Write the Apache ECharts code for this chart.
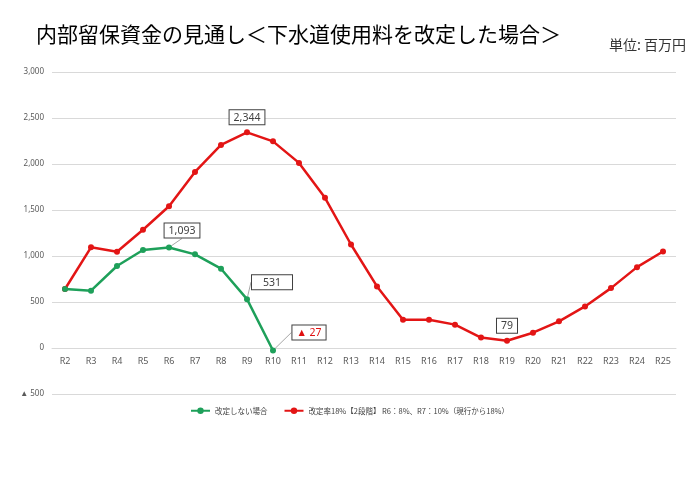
<!DOCTYPE html>
<html><head><meta charset="utf-8">
<script src="https://cdn.jsdelivr.net/npm/echarts@6/dist/echarts.min.js"></script>
<style>html,body{margin:0;padding:0;background:#fff}#c{width:699px;height:484px}</style>
</head><body><div id="c"></div>
<script>
var categories = ['R2','R3','R4','R5','R6','R7','R8','R9','R10','R11','R12','R13','R14','R15','R16','R17','R18','R19','R20','R21','R22','R23','R24','R25'];
var noChange = [641, 623, 891, 1065, 1093, 1018, 862, 531, -27, null, null, null, null, null, null, null, null, null, null, null, null, null, null, null];
var revised = [641, 1094, 1047, 1285, 1541, 1914, 2207, 2344, 2246, 2012, 1632, 1125, 669, 308, 308, 254, 113, 79, 166, 290, 452, 651, 879, 1049];
var seriesNames = ['改定しない場合', '改定率18%【2段階】 R6：8%、R7：10%（現行から18%）'];
var yTicks = [-500, 0, 500, 1000, 1500, 2000, 2500, 3000];
var greenLabelIdx = [4, 7, 8];
var redLabelIdx = [7, 17];

function fmt(v){
  var a = Math.abs(v).toString().replace(/\B(?=(\d{3})+(?!\d))/g, ',');
  return v < 0 ? '▲ ' + a : a;
}
var boxLabel = {
  show: true, position: 'top', backgroundColor: '#fff', borderColor: '#404040', borderWidth: 1,
  padding: [2, 4, 1, 4], fontSize: 10.5, color: '#404040', fontFamily: 'Noto Sans',
  formatter: function(p){ return fmt(p.value); }
};
var labelPads = {7: [2, 11, 1, 11]};
function mkData(arr, idxs, pads){
  return arr.map(function(v, i){
    if (idxs.indexOf(i) >= 0 && v !== null) {
      var lab = Object.assign({}, boxLabel);
      if (pads && pads[i]) lab.padding = pads[i];
      if (v < 0) { lab.color = '#e01010'; }
      return { value: v, label: lab };
    }
    return v;
  });
}
var greenOffsets = {4: [13, -2], 7: [25, -2], 8: [36, -3]};

var chart = echarts.init(document.getElementById('c'));
chart.setOption({
  animation: false,
  title: [
    { text: '内部留保資金の見通し＜下水道使用料を改定した場合＞', left: 31, top: 19,
      textStyle: { fontFamily: 'Noto Sans CJK JP', fontSize: 21, fontWeight: 'normal', color: '#000' } },
    { text: '単位: 百万円', right: 8, top: 33,
      textStyle: { fontFamily: 'Noto Sans CJK JP', fontSize: 14, fontWeight: 'normal', color: '#333' } }
  ],
  grid: { left: 52, right: 23, top: 72, bottom: 90 },
  legend: {
    left: 185, top: 402, itemWidth: 19, itemHeight: 8, itemGap: 16,
    textStyle: { fontSize: 7.5, color: '#404040', fontFamily: 'Noto Sans CJK JP' },
    data: seriesNames
  },
  xAxis: {
    type: 'category', data: categories, boundaryGap: true,
    axisLine: { onZero: false, lineStyle: { color: '#d9d9d9' } },
    offset: -46,
    axisTick: { show: false },
    axisLabel: { color: '#595959', fontSize: 9, fontFamily: 'Noto Sans', margin: 9 }
  },
  yAxis: {
    type: 'value', min: yTicks[0], max: yTicks[yTicks.length - 1], interval: 500,
    axisLine: { show: false }, axisTick: { show: false },
    splitLine: { lineStyle: { color: '#d9d9d9' } },
    axisLabel: { color: '#595959', fontSize: 8, fontFamily: 'Noto Sans', margin: 8,
      formatter: function(v){ return fmt(v); } }
  },
  series: [
    {
      name: seriesNames[0], type: 'line', data: mkData(noChange, greenLabelIdx, labelPads),
      color: '#1ea05a', symbol: 'circle', symbolSize: 6,
      lineStyle: { width: 2.5 }, itemStyle: { color: '#1ea05a' },
      labelLine: { show: true, lineStyle: { color: '#a6a6a6', width: 1 } },
      labelLayout: function(p){
        var o = greenOffsets[p.dataIndex];
        return o ? { dx: o[0], dy: o[1] } : {};
      },
      z: 3
    },
    {
      name: seriesNames[1], type: 'line', data: mkData(revised, redLabelIdx),
      color: '#e31515', symbol: 'circle', symbolSize: 6,
      lineStyle: { width: 2.5 }, itemStyle: { color: '#e31515' },
      z: 2
    }
  ]
});
</script></body></html>
